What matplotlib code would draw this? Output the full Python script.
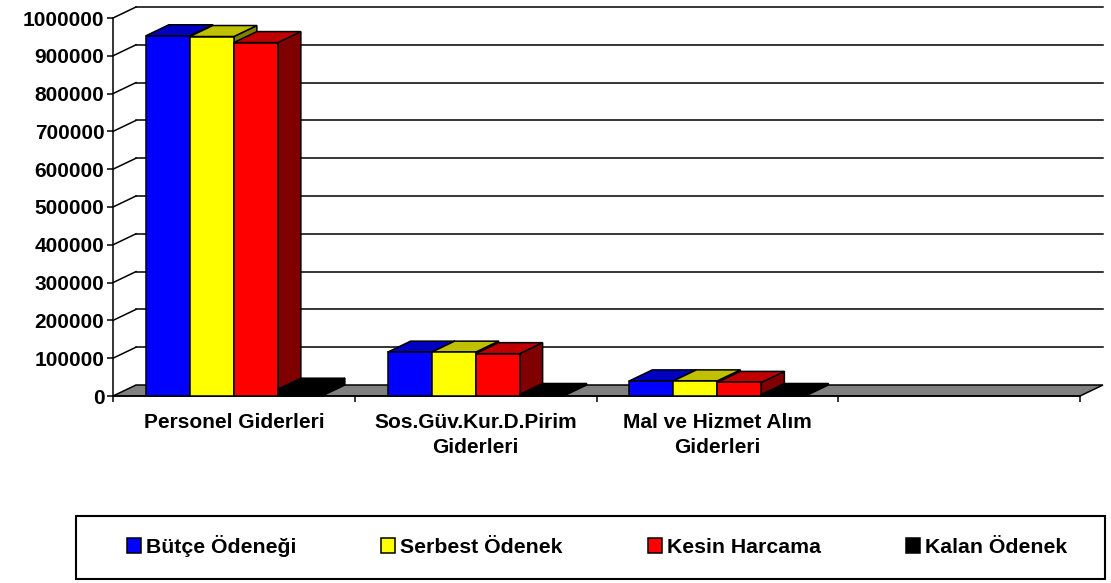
import numpy as np
import matplotlib.pyplot as plt
from matplotlib.patches import Polygon, Patch, Rectangle

plt.rcParams['font.family'] = ['Liberation Sans', 'DejaVu Sans']
plt.rcParams['font.weight'] = 'bold'

categories = ['Personel Giderleri', 'Sos.Güv.Kur.D.Pirim\nGiderleri',
              'Mal ve Hizmet Alım\nGiderleri', '']
series = ['Bütçe Ödeneği', 'Serbest Ödenek', 'Kesin Harcama', 'Kalan Ödenek']
butce = [953000, 116000, 40000, np.nan]
serbest = [951000, 116000, 40000, np.nan]
kesin = [935000, 112000, 36000, np.nan]
kalan = [18000, 4000, 4000, np.nan]
yticks = np.arange(0, 1000001, 100000)

# front, top, side colours (excel-ish shading)
colors = [('#0000FF', '#0000C0', '#000080'),
          ('#FFFF00', '#C0C000', '#808000'),
          ('#FF0000', '#C00000', '#800000'),
          ('#000000', '#000000', '#000000')]

fig = plt.figure(figsize=(11.11, 5.83), dpi=100)
ax = fig.add_axes([113 / 1111, 1 - 396 / 583, (1080 - 113) / 1111, (396 - 18) / 583])

ncat = len(categories)
ax.set_xlim(0, ncat)
ax.set_ylim(0, 1000000)

# depth offset of the fake 3d box, in data units
dx = 23 / ((1080 - 113) / ncat)
dy = 11 / 378 * 1000000
lw = 1.1

# back wall gridlines + left wall diagonals
for v in yticks[1:]:
    ax.plot([dx, ncat + dx], [v + dy, v + dy], color='black', lw=lw, clip_on=False, zorder=1)
    ax.plot([0, dx], [v, v + dy], color='black', lw=lw, clip_on=False, zorder=1)

# floor
floor = Polygon([(0, 0), (ncat, 0), (ncat + dx, dy), (dx, dy)], closed=True,
                facecolor='#808080', edgecolor='black', lw=lw, clip_on=False, zorder=2)
ax.add_patch(floor)


def box(x0, w, h, cols, z):
    front = [(x0, 0), (x0 + w, 0), (x0 + w, h), (x0, h)]
    top = [(x0, h), (x0 + w, h), (x0 + w + dx, h + dy), (x0 + dx, h + dy)]
    side = [(x0 + w, 0), (x0 + w + dx, dy), (x0 + w + dx, h + dy), (x0 + w, h)]
    for pts, c in [(side, cols[2]), (top, cols[1]), (front, cols[0])]:
        ax.add_patch(Polygon(pts, closed=True, facecolor=c, edgecolor='black',
                             lw=lw, joinstyle='miter', clip_on=False, zorder=z))


w = 0.182
data = [butce, serbest, kesin, kalan]
z = 3
for i in range(ncat):
    for k, vals in enumerate(data):
        if np.isnan(vals[i]):
            continue
        x0 = i + 0.5 - 2 * w + k * w
        box(x0, w, vals[i], colors[k], z)
        z += 1

for s in ['top', 'right']:
    ax.spines[s].set_visible(False)
ax.spines['left'].set_linewidth(lw)
ax.spines['bottom'].set_linewidth(lw)
ax.spines['left'].set_zorder(20)
ax.set_yticks(yticks)
ax.set_yticklabels([str(v) for v in yticks])
ax.tick_params(axis='y', direction='out', length=4.3, width=lw, labelsize=15, pad=2)
ax.set_xticks(np.arange(ncat + 1))
ax.set_xticklabels([])
ax.set_xticks(np.arange(ncat) + 0.5, minor=True)
ax.set_xticklabels(categories, minor=True, fontsize=15, linespacing=1.45)
ax.tick_params(axis='x', which='major', direction='out', length=4.3, width=lw)
ax.tick_params(axis='x', which='minor', length=0, pad=12)
ax.set_facecolor('none')

# legend frame drawn separately so it spans the full width
fig.add_artist(Rectangle((76 / 1111, 1 - 579 / 583), (1105 - 76) / 1111, 63 / 583,
                         transform=fig.transFigure, facecolor='white',
                         edgecolor='black', lw=1.5))
handles = [Patch(facecolor=c[0], edgecolor='black', lw=lw) for c in colors]
leg = fig.legend(handles, series, loc='center', ncol=4,
                 bbox_to_anchor=(597 / 1111, 1 - 546 / 583),
                 prop={'size': 15.3, 'weight': 'bold'}, handlelength=0.65,
                 handleheight=0.65, handletextpad=0.25, columnspacing=4.0,
                 frameon=False)

fig.savefig('out.png', dpi=100)
